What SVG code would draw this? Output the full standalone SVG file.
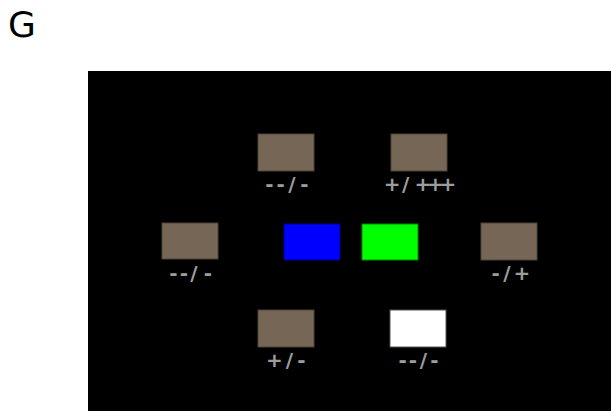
<svg xmlns="http://www.w3.org/2000/svg" width="611" height="411" viewBox="0 0 611 411">
<style>
.title{font-family:"DejaVu Sans","Open Sans",sans-serif;font-size:36px;fill:#000}
.b{fill:#766656;stroke:#4e4236;stroke-width:1}
.lbl{font-family:"DejaVu Sans","Liberation Sans",sans-serif;font-size:20px;font-weight:bold;fill:#9c9c9c;text-anchor:middle}
</style>
<rect x="0" y="0" width="611" height="411" fill="#ffffff"/>
<text class="title" x="8" y="36.5">G</text>
<rect x="88" y="71" width="523" height="340" fill="#000000"/>
<g id="connectors"></g>
<g id="n1"><rect class="b" x="258" y="134" width="56" height="37"/><text class="lbl" x="269.5 280.7 292 304.5" y="191.1">--/-</text></g>
<g id="n2"><rect class="b" x="391" y="134" width="56" height="37"/><text class="lbl" x="392.2 405.7 422.8 435.4 448" y="191.1">+/+++</text></g>
<g id="n3"><rect class="b" x="162" y="223" width="56" height="36"/><text class="lbl" x="173.3 184 194 208" y="280.1">--/-</text></g>
<g id="n4"><rect x="284" y="224" width="56" height="36" fill="#0000ff" stroke="#00008a"/></g>
<g id="n5"><rect x="362" y="224" width="56" height="36" fill="#00ff00" stroke="#008a00"/></g>
<g id="n6"><rect class="b" x="481" y="223" width="56" height="37"/><text class="lbl" x="495.7 507 522" y="280.1">-/+</text></g>
<g id="n7"><rect class="b" x="258" y="310" width="56" height="37"/><text class="lbl" x="274.5 289.3 301.3" y="366.8">+/-</text></g>
<g id="n8"><rect x="390" y="310" width="56" height="37" fill="#ffffff" stroke="#555555"/><text class="lbl" x="402.7 413 423.3 434.5" y="366.8">--/-</text></g>
</svg>
